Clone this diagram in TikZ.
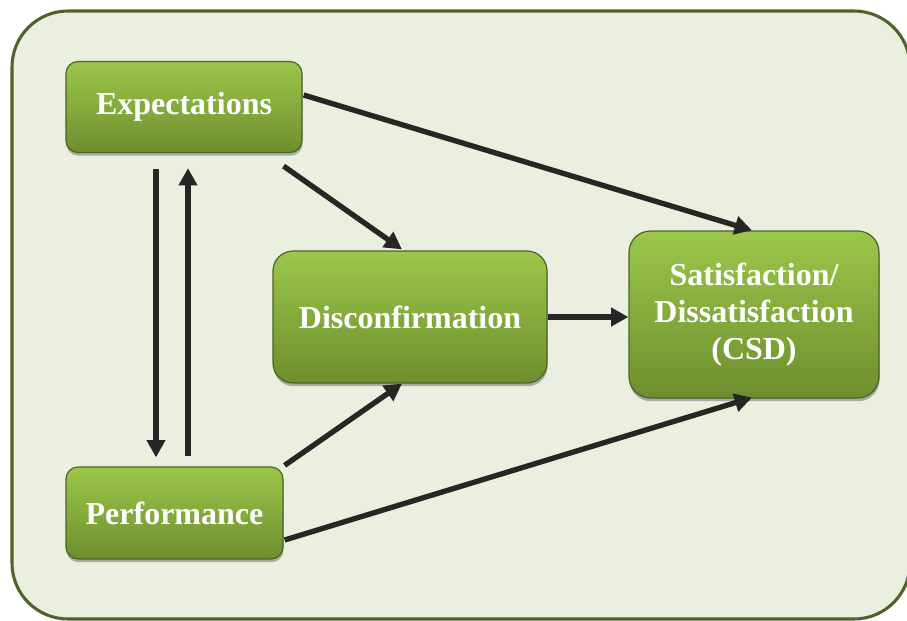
\documentclass[tikz,border=0pt]{standalone}
\usepackage{fontspec}
\setmainfont{Liberation Serif}
\usetikzlibrary{positioning, arrows.meta, shadows}
\definecolor{frame}{HTML}{4F6228}
\definecolor{paper}{HTML}{EBEFDF}
\definecolor{leaf}{HTML}{9BC74A}
\definecolor{moss}{HTML}{6E8E2E}
\definecolor{ink}{HTML}{262626}
\tikzset{
    box/.style={draw=frame, line width=0.9pt, rounded corners=9pt, top color=leaf, bottom color=moss,
        text=white, align=center, font=\fontsize{24}{28}\selectfont\bfseries,
        drop shadow={shadow xshift=0.4pt, shadow yshift=-2.4pt, fill=gray!80, opacity=0.8}}, % green boxes
    arr/.style={draw=ink, line width=4pt, -{Triangle[length=13pt,width=13.5pt]}}, % thick arrows
}
\begin{document}
\begin{tikzpicture}[x=0.75pt, y=-0.75pt]
    \useasboundingbox (0,0) rectangle (907,621);
    \draw[frame, fill=paper, line width=2.3pt, rounded corners=42pt] (12,11) rectangle (910,619);

    \node[box, minimum width=177pt, minimum height=68.25pt] (exp) at (184,107) {Expectations};
    \node[box, minimum width=205.5pt, minimum height=99pt, rounded corners=15pt] (dis) at (410,317) {Disconfirmation};
    \node[box, minimum width=187.5pt, minimum height=125.25pt, rounded corners=16pt] (sat) at (754,314.5) {Satisfaction/\\Dissatisfaction\\(CSD)};
    \node[box, minimum width=162.75pt, minimum height=69pt] (perf) at (174.5,513) {Performance};

    \draw[arr] ([shift={(1,-12)}]exp.east) -- ([shift={(-2,0)}]sat.north);
    \draw[arr] ([shift={(-19,13)}]exp.south east) -- ([shift={(-8,-1)}]dis.north);
    \draw[arr] (dis.east) -- (dis.east -| sat.west);
    \draw[arr] ([shift={(1,-1)}]perf.north east) -- ([shift={(-8,0)}]dis.south);
    \draw[arr] ([shift={(1,27)}]perf.east) -- ([shift={(-2,-1)}]sat.south);
    \draw[arr] ([shift={(-28,16)}]exp.south) -- ([shift={(-18.5,-9)}]perf.north);
    \draw[arr] ([shift={(13.5,-10)}]perf.north) -- ([shift={(4,15)}]exp.south);
\end{tikzpicture}
\end{document}
